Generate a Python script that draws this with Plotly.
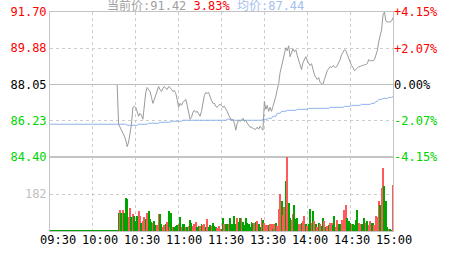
import plotly.graph_objects as go
from plotly.subplots import make_subplots

# ---------------- data ----------------
prev_close = 88.05
current_price = 91.42
change_pct = 3.83
avg_price_now = 87.44

minutes = list(range(241))  # 09:30-11:30 + 13:00-15:00, one point per minute

time_tick_pos = [0, 30, 60, 90, 120, 150, 180, 210, 240]
time_tick_labels = ["09:30", "10:00", "10:30", "11:00", "11:30", "13:30", "14:00", "14:30", "15:00"]

price_ticks = [91.70, 89.88, 88.05, 86.23, 84.40]
pct_ticks = [4.15, 2.07, 0.00, -2.07, -4.15]
pct_labels = ["+4.15%", "+2.07%", "0.00%", "-2.07%", "-4.15%"]
vol_ticks = [182]
vol_max = 364

prices = [
    88.05, 88.05, 88.05, 88.05, 88.05, 88.05, 88.05, 88.05, 88.05, 88.05,
    88.05, 88.05, 88.05, 88.05, 88.05, 88.05, 88.05, 88.05, 88.05, 88.05,
    88.05, 88.05, 88.05, 88.05, 88.05, 88.05, 88.05, 88.05, 88.05, 88.05,
    88.05, 88.05, 88.05, 88.05, 88.05, 88.05, 88.05, 88.05, 88.05, 88.05,
    88.05, 88.05, 88.05, 88.05, 88.05, 88.05, 88.05, 88.05,
    86.05, 85.90, 85.75, 85.65, 85.45, 85.25, 84.92, 85.15, 85.55, 86.05,
    86.90, 86.95, 86.90, 86.65, 86.45, 86.60, 86.50, 86.30, 87.05, 87.65,
    87.90, 87.80, 87.70, 87.40, 87.10, 87.30, 87.50, 87.80, 87.95, 87.80,
    87.70, 87.85, 87.95, 87.85, 87.80, 87.95, 87.90, 87.80, 87.70, 87.75,
    87.60, 87.30, 86.90, 87.10, 87.00, 87.15, 87.25, 87.30, 87.00, 86.60,
    86.30, 86.40, 86.65, 86.75, 86.65, 86.70, 86.55, 86.45, 86.70, 87.20,
    87.50, 87.65, 87.60, 87.65, 87.40, 87.25, 87.10, 87.10, 86.95, 86.90,
    87.00, 87.05, 87.00, 86.90, 86.95, 86.85, 86.70, 86.50, 86.35, 86.25,
    86.30, 86.10, 85.75, 86.10, 86.25, 86.20, 86.25, 86.35, 86.20, 86.25,
    86.10, 86.00, 85.90, 85.90, 85.85, 85.80, 85.80, 85.90, 85.80, 85.95,
    85.85, 85.75, 87.20, 86.80, 87.00, 86.70, 86.90, 86.70, 86.95, 87.15,
    87.45, 87.80, 88.10, 88.65, 89.00, 89.30, 89.55, 89.90, 89.75, 90.00,
    89.45, 89.70, 89.85, 89.70, 89.80, 89.50, 89.30, 89.00, 88.80, 89.15,
    89.30, 89.45, 89.25, 89.15, 89.00, 89.10, 88.80, 88.55, 88.40, 88.30,
    88.40, 88.15, 88.10, 88.05, 88.30, 88.55, 88.75, 88.85, 88.95, 88.90,
    89.00, 88.95, 88.90, 89.00, 89.15, 89.30, 89.55, 89.70, 89.80, 89.75,
    89.55, 89.35, 89.20, 89.00, 88.90, 88.75, 88.80, 88.90, 88.95, 88.95,
    89.00, 89.00, 89.05, 89.05, 89.10, 89.30, 89.25, 89.25, 89.25, 89.30,
    89.50, 89.75, 90.20, 90.50, 90.80, 91.55, 91.70, 91.25, 91.20, 91.20,
    91.20, 91.25, 91.42,
]

avg_prices = [
    86.05, 86.05, 86.05, 86.05, 86.05, 86.05, 86.05, 86.05, 86.05, 86.05,
    86.05, 86.05, 86.05, 86.05, 86.05, 86.05, 86.05, 86.05, 86.05, 86.05,
    86.05, 86.05, 86.05, 86.05, 86.05, 86.05, 86.05, 86.05, 86.05, 86.05,
    86.05, 86.05, 86.05, 86.05, 86.05, 86.05, 86.05, 86.05, 86.05, 86.05,
    86.05, 86.05, 86.05, 86.05, 86.05, 86.05, 86.05, 86.05, 86.05, 86.05,
    86.05, 86.05, 86.05, 86.05,
    86.00, 86.00, 86.00, 86.00, 86.00, 86.00, 86.00, 86.00,
    86.05, 86.05, 86.05, 86.05, 86.05, 86.05, 86.05,
    86.10, 86.10, 86.10, 86.10, 86.10, 86.10, 86.10, 86.10,
    86.15, 86.15, 86.15, 86.15, 86.15, 86.15, 86.15, 86.15,
    86.20, 86.20, 86.20, 86.20, 86.20, 86.20, 86.20, 86.20,
    86.25, 86.25, 86.25, 86.25, 86.25, 86.25, 86.25, 86.25, 86.25, 86.25,
    86.25, 86.25, 86.25, 86.25, 86.25, 86.25, 86.25, 86.25, 86.25, 86.25,
    86.25, 86.25, 86.25, 86.25, 86.25, 86.25, 86.25, 86.25, 86.25, 86.25,
    86.25,
    86.30, 86.30, 86.30, 86.30,
    86.25, 86.25, 86.25, 86.25, 86.25, 86.25, 86.25, 86.25, 86.25, 86.25,
    86.25, 86.25, 86.25, 86.25, 86.25, 86.25, 86.25, 86.25, 86.25, 86.25,
    86.25,
    86.30, 86.30, 86.30, 86.30,
    86.35, 86.35, 86.35,
    86.45, 86.45, 86.45,
    86.60, 86.60, 86.60,
    86.70, 86.70, 86.70, 86.70,
    86.75, 86.75, 86.75, 86.75, 86.75, 86.75, 86.75,
    86.80, 86.80, 86.80, 86.80, 86.80, 86.80, 86.80, 86.80,
    86.85, 86.85, 86.85, 86.85, 86.85, 86.85, 86.85, 86.85, 86.85, 86.85,
    86.85, 86.85, 86.85, 86.85, 86.85,
    86.90, 86.90, 86.90, 86.90, 86.90, 86.90, 86.90, 86.90, 86.90, 86.90,
    86.95, 86.95, 86.95, 86.95, 86.95,
    87.00, 87.00, 87.00, 87.00, 87.00, 87.00, 87.00,
    87.05, 87.05, 87.05, 87.05, 87.05, 87.05, 87.05,
    87.10, 87.10, 87.10,
    87.20, 87.20,
    87.30, 87.30, 87.30,
    87.35, 87.35, 87.35, 87.35,
    87.40, 87.40, 87.40,
    87.44,
]

volumes = [
    4, 4, 4, 4, 4, 4, 4, 4, 4, 4,
    4, 4, 4, 4, 4, 4, 4, 4, 4, 4,
    4, 4, 4, 4, 4, 4, 4, 4, 4, 4,
    4, 4, 4, 4, 4, 4, 4, 4, 4, 4,
    4, 4, 4, 4, 4, 4, 4, 4,
    91, 101, 91, 101, 91, 160, 155, 71, 111, 71,
    85, 73, 48, 76, 97, 75, 40, 48, 68, 60,
    91, 96, 57, 42, 37, 48, 29, 29, 86, 86,
    32, 19, 29, 35, 42, 96, 19, 91, 22, 22,
    27, 29, 32, 71, 19, 35, 35, 22, 19, 25,
    52, 38, 27, 35, 42, 19, 27, 24, 32, 29,
    32, 19, 57, 22, 29, 27, 37, 27, 19, 16,
    27, 12, 12, 65, 35, 32, 35, 35, 65, 35,
    35, 76, 35, 65, 42, 65, 65, 42, 29, 65,
    38, 32, 22, 42, 38, 38, 42, 48, 35, 19,
    65, 52, 38, 29, 29, 29, 32, 32, 6, 32,
    38, 24, 107, 180, 150, 81, 120, 245, 363, 137,
    62, 52, 86, 130, 60, 62, 35, 35, 40, 48,
    76, 32, 24, 32, 106, 40, 97, 48, 32, 19,
    40, 32, 27, 62, 48, 19, 27, 29, 40, 38,
    29, 76, 19, 52, 35, 32, 55, 32, 101, 127,
    62, 48, 38, 32, 35, 29, 55, 101, 38, 32,
    35, 27, 62, 40, 48, 29, 48, 40, 40, 29,
    75, 71, 147, 127, 212, 311, 219, 147, 19, 7,
    6, 2, 225,
]

# R = up minute, G = down minute
vol_direction = list(
    "GGGGGGGGGGGGGGGGGGGGGGGGGGGGGGGGGGGGGGGGGGGGGGGG"
    "GRGRGGGRRG" "RGGGRRGRRG" "RGGGRGGRRG" "GRRGRGRGRG" "GGRGRGGRGR"
    "GGRRRGGRGR" "RGRGGRGGGR" "RRGGRGGRGG" "GGGRGGRGGG" "GGGGGRGRGG"
    "RGRRRGRRGR" "GRRRGRRGRG" "GRRGGGRRGR" "RGRGGRGRGR" "GRGGRGRGRR"
    "GGRRGGRRRR" "GGGRGGGGRR" "GGGRGRRGGR" "RRRGRRGGGR" "GGR"
)

# ---------------- styling ----------------
MONO = "DejaVu Sans Mono, Noto Sans CJK SC, monospace"
RED = "#ff0000"
GREEN = "#00d400"
BAR_RED = "#ff5a5a"
BAR_GREEN = "#00a400"
GRID = "#cccccc"
BORDER = "#c4c4c4"
PRICE_COLOR = "#9a9a9a"
AVG_COLOR = "#8db2ee"
DASH = "3px,3px"


def level_color(v, ref):
    if abs(v - ref) < 1e-9:
        return "#000000"
    return RED if v > ref else GREEN


price_ticktext = [
    f'<span style="color:{level_color(v, prev_close)}">{v:.2f}</span>' for v in price_ticks
]
pct_ticktext = [
    f'<span style="color:{level_color(v, 0)}">{t}</span>' for v, t in zip(pct_ticks, pct_labels)
]

fig = make_subplots(
    rows=2, cols=1, shared_xaxes=True, vertical_spacing=0,
    row_heights=[145, 74], specs=[[{"secondary_y": True}], [{}]],
)

fig.add_trace(go.Scatter(x=minutes, y=avg_prices, mode="lines",
                         line=dict(color=AVG_COLOR, width=1), hoverinfo="skip"),
              row=1, col=1, secondary_y=False)
fig.add_trace(go.Scatter(x=minutes, y=prices, mode="lines",
                         line=dict(color=PRICE_COLOR, width=1), hoverinfo="skip"),
              row=1, col=1, secondary_y=False)
fig.add_trace(go.Scatter(x=[0], y=[0], mode="lines", line=dict(width=0),
                         hoverinfo="skip", showlegend=False),
              row=1, col=1, secondary_y=True)

bar_colors = [BAR_RED if d == "R" else BAR_GREEN for d in vol_direction]
fig.add_trace(go.Bar(x=minutes, y=volumes, marker=dict(color=bar_colors, line=dict(width=0)),
                     width=0.68, hoverinfo="skip"), row=2, col=1)

fig.add_hline(y=prev_close, line=dict(color="#bdbdbd", width=1), row=1, col=1, secondary_y=False)

xaxis_common = dict(
    range=[0, 240], tickvals=time_tick_pos, showticklabels=False, ticks="",
    showgrid=True, gridcolor=GRID, gridwidth=1, griddash=DASH,
    showline=True, linecolor=BORDER, linewidth=1, mirror=True, zeroline=False,
    automargin=False, domain=[0, 1],
)
fig.update_xaxes(**xaxis_common, row=1, col=1)
fig.update_xaxes(**xaxis_common, row=2, col=1)

fig.update_yaxes(
    range=[price_ticks[-1], price_ticks[0]], tickvals=price_ticks, ticktext=price_ticktext,
    ticks="", showgrid=True, gridcolor=GRID, griddash=DASH, gridwidth=1,
    showline=True, linecolor=BORDER, mirror=True, zeroline=False, automargin=False,
    tickfont=dict(family=MONO, size=12),
    row=1, col=1, secondary_y=False,
)
fig.update_yaxes(
    range=[pct_ticks[-1], pct_ticks[0]], tickvals=pct_ticks, ticktext=pct_ticktext,
    ticks="", showgrid=False, showline=False, zeroline=False, side="right", automargin=False,
    tickfont=dict(family=MONO, size=12),
    row=1, col=1, secondary_y=True,
)
fig.update_yaxes(
    range=[0, vol_max], tickvals=vol_ticks, ticktext=[str(v) for v in vol_ticks],
    ticks="", showgrid=True, gridcolor=GRID, griddash=DASH, gridwidth=1,
    showline=True, linecolor=BORDER, mirror=True, zeroline=False, automargin=False,
    tickfont=dict(family=MONO, size=12, color="#c0c0c0"),
    row=2, col=1,
)

# time labels under the volume panel
annotations = []
for k, (pos, lab) in enumerate(zip(time_tick_pos, time_tick_labels)):
    annotations.append(dict(
        x=pos, xref="x2", y=0, yref="paper", text=lab, showarrow=False,
        xanchor="center", yanchor="middle", yshift=-9, xshift=8 - 0.875 * k,
        font=dict(family=MONO, size=12, color="#000000"),
    ))

header = (
    f'<span style="color:#a0a0a0">当前价:{current_price:.2f}</span> '
    f'<span style="color:{RED}">{change_pct:.2f}%</span> '
    f'<span style="color:#a4c0ee">均价:{avg_price_now:.2f}</span>'
)
annotations.append(dict(
    x=0, xref="paper", y=1, yref="paper", text=header, showarrow=False,
    xanchor="left", yanchor="middle", xshift=55, yshift=6.5,
    font=dict(family=MONO, size=12),
))

fig.update_layout(
    width=463, height=255,
    margin=dict(l=50, r=70, t=12, b=24, autoexpand=False),
    paper_bgcolor="white", plot_bgcolor="white",
    showlegend=False, bargap=0,
    annotations=annotations,
)

fig.write_html("out.html")
